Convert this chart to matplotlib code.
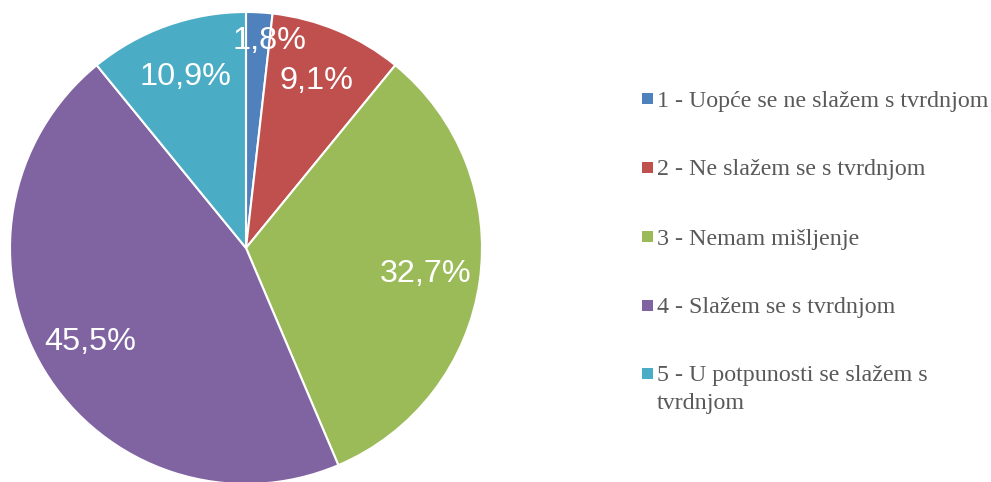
import matplotlib.pyplot as plt
from matplotlib.patches import Rectangle

# --- Data ---
labels = [
    "1 - Uopće se ne slažem s tvrdnjom",
    "2 - Ne slažem se s tvrdnjom",
    "3 - Nemam mišljenje",
    "4 - Slažem se s tvrdnjom",
    "5 - U potpunosti se slažem s\ntvrdnjom",
]
shares = [1.8, 9.1, 32.7, 45.5, 10.9]
colors = ["#4F81BD", "#C0504D", "#9BBB59", "#8064A2", "#4BACC6"]

W, H = 991, 482
fig = plt.figure(figsize=(W / 100, H / 100), dpi=100)

# pie axes: centre (246, 248) px, radius 236 px
cx, cy, r = 246, 248, 236
ax = fig.add_axes([(cx - r) / W, (H - cy - r) / H, 2 * r / W, 2 * r / H])

wedges, texts, autotexts = ax.pie(
    shares, colors=colors, startangle=90, counterclock=False,
    autopct=lambda p: f"{p:.1f}%".replace(".", ","), pctdistance=0.77,
    wedgeprops=dict(edgecolor="white", linewidth=1.5),
    textprops=dict(color="white", fontsize=23.3, family="Liberation Sans"),
)
# small slice label pushed out a bit, like the original
x0, y0 = autotexts[0].get_position()
autotexts[0].set_position((x0 * 1.14 + 0.05, y0 * 1.14))
ax.set_xlim(-1, 1)
ax.set_ylim(-1, 1)
ax.set_aspect("equal")
ax.axis("off")

# --- Legend (drawn by hand to match the layout) ---
baselines = [106.5, 175.5, 244.5, 313, 381]
for lab, col, yb in zip(labels, colors, baselines):
    fig.patches.append(Rectangle((642 / W, 1 - (yb - 2.5) / H), 10.5 / W, 11 / H,
                                 transform=fig.transFigure, facecolor=col,
                                 edgecolor="none"))
    first, *rest = lab.split("\n")
    fig.text(657 / W, 1 - yb / H, first, ha="left", va="baseline",
             fontsize=17.3, family="Liberation Serif", color="#595959")
    for i, line in enumerate(rest, start=1):
        fig.text(657 / W, 1 - (yb + 28 * i) / H, line, ha="left", va="baseline",
                 fontsize=17.3, family="Liberation Serif", color="#595959")

fig.savefig("out.png", dpi=100)
